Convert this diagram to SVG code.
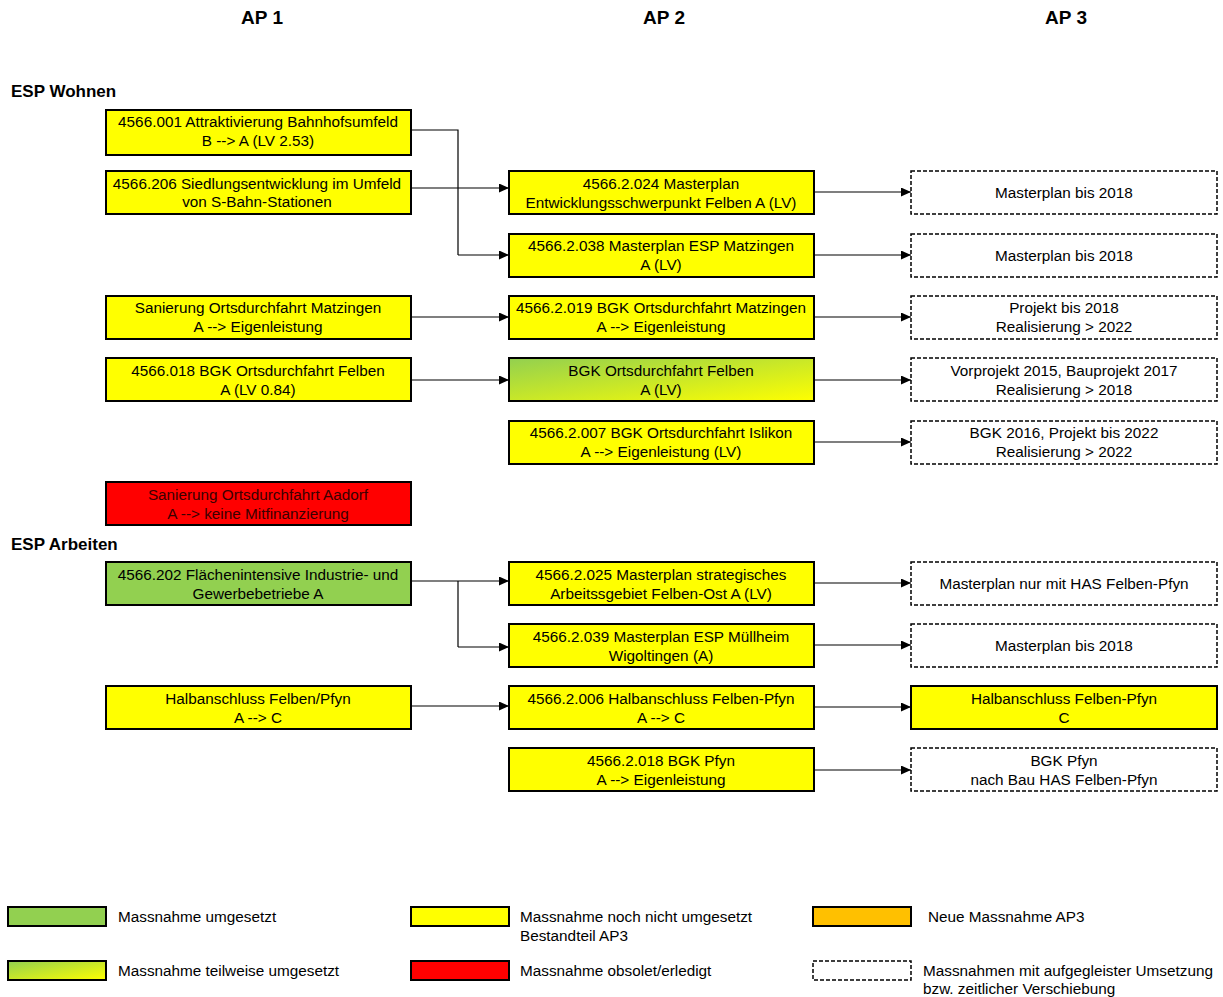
<svg xmlns="http://www.w3.org/2000/svg" width="1223" height="997" viewBox="0 0 1223 997">
<defs>
<linearGradient id="gy" x1="0" y1="0" x2="1" y2="1">
<stop offset="0" stop-color="#92d050"/>
<stop offset="1" stop-color="#ffff00"/>
</linearGradient>
<marker id="ah" markerWidth="10" markerHeight="9" refX="10" refY="4.5" orient="auto" markerUnits="userSpaceOnUse">
<path d="M0,0 L10,4.5 L0,9 Z" fill="#000"/>
</marker>
</defs>
<style>
text{font-family:"Liberation Sans",Arial,sans-serif;font-size:15.3px;fill:#000}
.t{text-anchor:middle}
.h{font-size:19px;font-weight:bold;text-anchor:middle}
.s{font-size:17px;font-weight:bold}
.y{fill:#ffff00;stroke:#000;stroke-width:2}
.g{fill:#92d050;stroke:#000;stroke-width:2}
.gr{fill:url(#gy);stroke:#000;stroke-width:2}
.r{fill:#ff0000;stroke:#000;stroke-width:2}
.o{fill:#ffc000;stroke:#000;stroke-width:2}
.d{fill:#fff;stroke:#000;stroke-width:1.5;stroke-dasharray:4 2}
.c{fill:none;stroke:#000;stroke-width:1.2}
.ca{fill:none;stroke:#000;stroke-width:1.2;marker-end:url(#ah)}
</style>
<rect width="1223" height="997" fill="#fff"/>
<text class="h" x="262" y="24">AP 1</text>
<text class="h" x="664" y="24">AP 2</text>
<text class="h" x="1066" y="24">AP 3</text>
<text class="s" x="11" y="97">ESP Wohnen</text>
<text class="s" x="11" y="550">ESP Arbeiten</text>

<g id="connectors">
<path class="c" d="M411,130 H458 V255"/>
<path class="ca" d="M458,255 H509"/>
<path class="ca" d="M411,188 H509"/>
<path class="ca" d="M814,192 H911"/>
<path class="ca" d="M814,255 H911"/>
<path class="ca" d="M411,317 H509"/>
<path class="ca" d="M814,317 H911"/>
<path class="ca" d="M411,380 H509"/>
<path class="ca" d="M814,380 H911"/>
<path class="ca" d="M814,442 H911"/>
<path class="ca" d="M411,581 H509"/>
<path class="c" d="M458,581 V647"/>
<path class="ca" d="M458,647 H509"/>
<path class="ca" d="M814,583 H911"/>
<path class="ca" d="M814,645 H911"/>
<path class="ca" d="M411,706 H509"/>
<path class="ca" d="M814,707 H911"/>
<path class="ca" d="M814,770 H911"/>
</g>

<g id="n1"><rect class="y" x="106" y="110" width="305" height="45"/><text class="t" x="258" y="127">4566.001 Attraktivierung Bahnhofsumfeld</text><text class="t" x="258" y="146">B --&gt; A (LV 2.53)</text></g>
<g id="n2"><rect class="y" x="106" y="171" width="305" height="43"/><text class="t" x="257" y="189">4566.206 Siedlungsentwicklung im Umfeld</text><text class="t" x="257" y="207">von S-Bahn-Stationen</text></g>
<g id="n3"><rect class="y" x="509" y="171" width="305" height="43"/><text class="t" x="661" y="189">4566.2.024 Masterplan</text><text class="t" x="661" y="208">Entwicklungsschwerpunkt Felben A (LV)</text></g>
<g id="n4"><rect class="d" x="911" y="171" width="306" height="43"/><text class="t" x="1064" y="198">Masterplan bis 2018</text></g>
<g id="n5"><rect class="y" x="509" y="234" width="305" height="43"/><text class="t" x="661" y="251">4566.2.038 Masterplan ESP Matzingen</text><text class="t" x="661" y="270">A (LV)</text></g>
<g id="n6"><rect class="d" x="911" y="234" width="306" height="43"/><text class="t" x="1064" y="261">Masterplan bis 2018</text></g>
<g id="n7"><rect class="y" x="106" y="296" width="305" height="43"/><text class="t" x="258" y="313">Sanierung Ortsdurchfahrt Matzingen</text><text class="t" x="258" y="332">A --&gt; Eigenleistung</text></g>
<g id="n8"><rect class="y" x="509" y="296" width="305" height="43"/><text class="t" x="661" y="313">4566.2.019 BGK Ortsdurchfahrt Matzingen</text><text class="t" x="661" y="332">A --&gt; Eigenleistung</text></g>
<g id="n9"><rect class="d" x="911" y="296" width="306" height="43"/><text class="t" x="1064" y="313">Projekt bis 2018</text><text class="t" x="1064" y="332">Realisierung &gt; 2022</text></g>
<g id="n10"><rect class="y" x="106" y="358" width="305" height="43"/><text class="t" x="258" y="376">4566.018 BGK Ortsdurchfahrt Felben</text><text class="t" x="258" y="395">A (LV 0.84)</text></g>
<g id="n11"><rect class="gr" x="509" y="358" width="305" height="43"/><text class="t" x="661" y="376">BGK Ortsdurchfahrt Felben</text><text class="t" x="661" y="395">A (LV)</text></g>
<g id="n12"><rect class="d" x="911" y="358" width="306" height="43"/><text class="t" x="1064" y="376">Vorprojekt 2015, Bauprojekt 2017</text><text class="t" x="1064" y="395">Realisierung &gt; 2018</text></g>
<g id="n13"><rect class="y" x="509" y="421" width="305" height="43"/><text class="t" x="661" y="438">4566.2.007 BGK Ortsdurchfahrt Islikon</text><text class="t" x="661" y="457">A --&gt; Eigenleistung (LV)</text></g>
<g id="n14"><rect class="d" x="911" y="421" width="306" height="43"/><text class="t" x="1064" y="438">BGK 2016, Projekt bis 2022</text><text class="t" x="1064" y="457">Realisierung &gt; 2022</text></g>
<g id="n15"><rect class="r" x="106" y="482" width="305" height="43"/><text class="t" x="258" y="500" style="fill:#3a0000">Sanierung Ortsdurchfahrt Aadorf</text><text class="t" x="258" y="519" style="fill:#3a0000">A --&gt; keine Mitfinanzierung</text></g>
<g id="n16"><rect class="g" x="106" y="562" width="305" height="43"/><text class="t" x="258" y="580">4566.202 Flächenintensive Industrie- und</text><text class="t" x="258" y="599">Gewerbebetriebe A</text></g>
<g id="n17"><rect class="y" x="509" y="562" width="305" height="43"/><text class="t" x="661" y="580">4566.2.025 Masterplan strategisches</text><text class="t" x="661" y="599">Arbeitssgebiet Felben-Ost A (LV)</text></g>
<g id="n18"><rect class="d" x="911" y="562" width="306" height="43"/><text class="t" x="1064" y="589">Masterplan nur mit HAS Felben-Pfyn</text></g>
<g id="n19"><rect class="y" x="509" y="624" width="305" height="43"/><text class="t" x="661" y="642">4566.2.039 Masterplan ESP Müllheim</text><text class="t" x="661" y="661">Wigoltingen (A)</text></g>
<g id="n20"><rect class="d" x="911" y="624" width="306" height="43"/><text class="t" x="1064" y="651">Masterplan bis 2018</text></g>
<g id="n21"><rect class="y" x="106" y="686" width="305" height="43"/><text class="t" x="258" y="704">Halbanschluss Felben/Pfyn</text><text class="t" x="258" y="723">A --&gt; C</text></g>
<g id="n22"><rect class="y" x="509" y="686" width="305" height="43"/><text class="t" x="661" y="704">4566.2.006 Halbanschluss Felben-Pfyn</text><text class="t" x="661" y="723">A --&gt; C</text></g>
<g id="n23"><rect class="y" x="911" y="686" width="306" height="43"/><text class="t" x="1064" y="704">Halbanschluss Felben-Pfyn</text><text class="t" x="1064" y="723">C</text></g>
<g id="n24"><rect class="y" x="509" y="748" width="305" height="43"/><text class="t" x="661" y="766">4566.2.018 BGK Pfyn</text><text class="t" x="661" y="785">A --&gt; Eigenleistung</text></g>
<g id="n25"><rect class="d" x="911" y="748" width="306" height="43"/><text class="t" x="1064" y="766">BGK Pfyn</text><text class="t" x="1064" y="785">nach Bau HAS Felben-Pfyn</text></g>

<g id="legend">
<rect class="g" x="8" y="907" width="98" height="19"/><text x="118" y="922">Massnahme umgesetzt</text>
<rect class="gr" x="8" y="961" width="98" height="19"/><text x="118" y="976">Massnahme teilweise umgesetzt</text>
<rect class="y" x="411" y="907" width="98" height="19"/><text x="520" y="922">Massnahme noch nicht umgesetzt</text><text x="520" y="941">Bestandteil AP3</text>
<rect class="r" x="411" y="961" width="98" height="19"/><text x="520" y="976">Massnahme obsolet/erledigt</text>
<rect class="o" x="813" y="907" width="98" height="19"/><text x="928" y="922">Neue Massnahme AP3</text>
<rect class="d" x="813" y="961" width="98" height="19"/><text x="923" y="976">Massnahmen mit aufgegleister Umsetzung</text><text x="923" y="994">bzw. zeitlicher Verschiebung</text>
</g>
</svg>
